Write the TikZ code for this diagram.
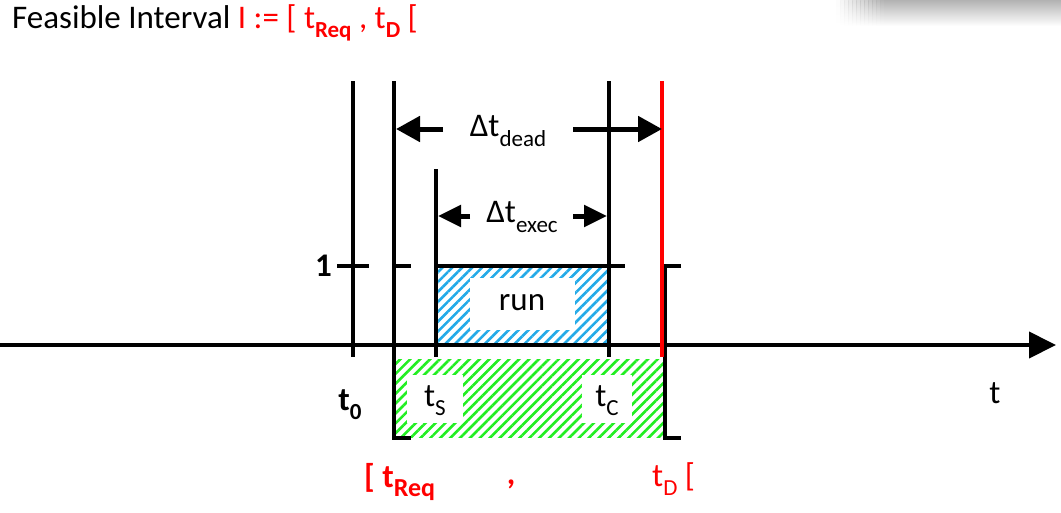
\documentclass[tikz,border=0pt]{standalone}
\usepackage{fontspec}
\setmainfont{Carlito}
\usetikzlibrary{patterns.meta,arrows.meta}
\definecolor{myred}{HTML}{FF0000}
\definecolor{myblue}{HTML}{22AAE8}
\definecolor{mygreen}{HTML}{22EE22}
\newcommand{\mysub}[1]{\raisebox{-0.28em}{\fontsize{23}{23}\selectfont #1}}
\tikzset{
  bar/.style={line width=4pt, line cap=butt},
  dim/.style={line width=5pt, -{Triangle[length=24pt,width=25pt]}},
  dimsmall/.style={line width=5pt, -{Triangle[length=23pt,width=21pt]}},
  lbl/.style={font=\fontsize{33}{38}\selectfont, inner sep=0pt},
  hole/.style={fill=white, draw=none},
  shadowstrip/.style={top color=black!30, bottom color=white, draw=none},
}
\begin{document}
\begin{tikzpicture}[x=1pt,y=-1pt]
\useasboundingbox (0,0) rectangle (1061,512);
% shadow fragment at top right
\foreach \i in {0,...,11} {
  \shade[shadowstrip, opacity={(\i+0.5)/12}] ({836+4*\i},0) rectangle ({840.5+4*\i},26);
}
\shade[shadowstrip] (884,0) rectangle (1061,26);
% title
\node[lbl, anchor=base west] (title) at (12,28) {Feasible Interval \textcolor{myred}{I := [ t\mysub{\bfseries Req} , t\mysub{\bfseries D} [}};
% hatched areas
\fill[pattern={Lines[angle=45,distance=7pt,line width=2.6pt]}, pattern color=mygreen] (396,359) rectangle (663,437);
\fill[hole] (407,375) rectangle (463,423);
\fill[hole] (582,375) rectangle (632,423);
\fill[pattern={Lines[angle=45,distance=7pt,line width=2.6pt]}, pattern color=myblue] (436,268) rectangle (609,343);
\fill[hole] (470,278) rectangle (575,330);
% coordinates
\coordinate (axL) at (0,345);
\coordinate (axR) at (1056,345);
\coordinate (t0T) at (353,81);   \coordinate (t0B) at (353,357);
\coordinate (rqT) at (394,81);
\coordinate (rqE) at (411,438);
\coordinate (tsT) at (436,169);  \coordinate (tsB) at (436,357);
\coordinate (tcT) at (609,81);   \coordinate (tcB) at (609,357);
\coordinate (tdT) at (662,81);   \coordinate (tdB) at (662,357);
\coordinate (brTE) at (681,266); \coordinate (brBE) at (681,438);
% axis
\draw[line width=4pt, -{Triangle[length=27pt,width=26pt]}] (axL) -- (axR);
% vertical lines
\draw[bar] (t0T) -- (t0B);
\draw[bar] (337,266) -- (369,266);
\draw[bar] (tsT) -- (tsB);
\draw[bar] (tcT) -- (tcB);
\draw[bar] (609,266) -- (625,266);
\draw[bar] (394,266) -- (411,266);
\draw[bar] (436,266) -- (609,266);
\draw[line width=4pt, line join=miter] (rqT) -- (394,438) -- (rqE);
\draw[line width=4pt, line join=miter] (brTE) -- (665,266) -- (665,438) -- (brBE);
\draw[bar, myred] (tdT) -- (tdB);
% dimension arrows
\node[lbl] (dead) at (508,131) {Δt\mysub{dead}};
\draw[dim] (443,129) -- (396,129);
\draw[dim] (573,129) -- (662,129);
\node[lbl] (exec) at (522,217) {Δt\mysub{exec}};
\draw[dimsmall] (470,216) -- (438,216);
\draw[dimsmall] (573,216) -- (607,216);
% labels
\node[lbl, font=\fontsize{33}{38}\selectfont\bfseries, anchor=east] (one) at (332,266) {1};
\node[lbl] (run) at (522,303) {run};
\node[lbl, font=\fontsize{33}{38}\selectfont\bfseries] (t0) at (350,405) {t\mysub{0}};
\node[lbl] (ts) at (435,401) {t\mysub{S}};
\node[lbl] (tc) at (607,401) {t\mysub{C}};
\node[lbl] (tax) at (995,393) {t};
\node[lbl, text=myred, font=\fontsize{33}{38}\selectfont\bfseries, anchor=base west] (req) at (364,487) {[ t\mysub{\fontsize{26}{26}\selectfont Req}};
\node[lbl, text=myred, font=\fontsize{33}{38}\selectfont\bfseries, anchor=base] (comma) at (511,484) {,};
\node[lbl, text=myred, anchor=base west] (td) at (652,486) {t\mysub{D} [};
\end{tikzpicture}
\end{document}
